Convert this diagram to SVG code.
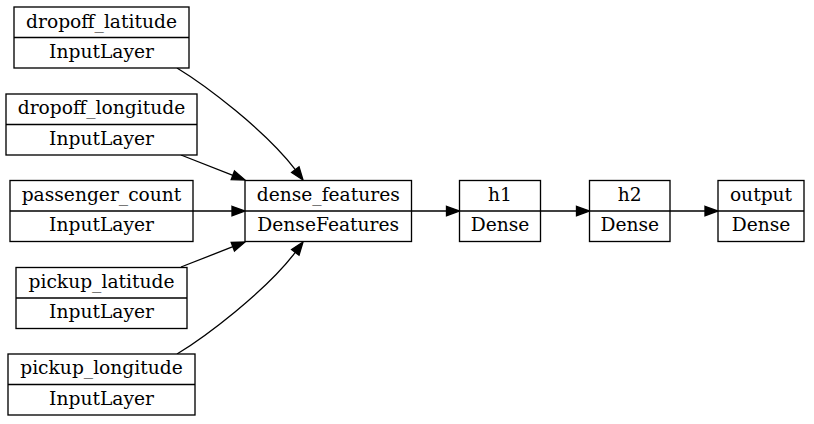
<svg xmlns="http://www.w3.org/2000/svg" width="814" height="424" viewBox="0 0 814 424">
<defs>
<style>
.box{fill:#fff;stroke:#000;stroke-width:1.33}
.div{stroke:#000;stroke-width:1.33}
.t{font-family:"DejaVu Serif","Liberation Serif",serif;font-size:18.67px;fill:#000;text-anchor:middle}
.e{fill:none;stroke:#000;stroke-width:1.33}
.ah{fill:#000;stroke:#000;stroke-width:1.33}
</style>
</defs>
<rect width="814" height="424" fill="#fff"/>
<g id="connectors">
<path class="e" d="M177,68 C205,85 265,130 295.3,169.6"/>
<polygon class="ah" points="299,166.8 303,180 291.6,172.4"/>
<path class="e" d="M181,155 L232.9,175.3"/>
<polygon class="ah" points="234.5,170.9 245,180 231.2,179.7"/>
<path class="e" d="M193,211 L232,211"/>
<polygon class="ah" points="232,206.3 245,211 232,215.7"/>
<path class="e" d="M181,267 L232.9,246.7"/>
<polygon class="ah" points="234.5,251.1 245,242 231.2,242.3"/>
<path class="e" d="M177,354 C205,337 265,292 295.3,252.4"/>
<polygon class="ah" points="299,255.2 303,242 291.6,249.6"/>
<path class="e" d="M411.5,211 L446.5,211"/>
<polygon class="ah" points="446.5,206.3 459.5,211 446.5,215.7"/>
<path class="e" d="M540.5,211 L576.5,211"/>
<polygon class="ah" points="576.5,206.3 589.5,211 576.5,215.7"/>
<path class="e" d="M670,211 L705,211"/>
<polygon class="ah" points="705,206.3 718,211 705,215.7"/>
</g>
<g id="dropoff_latitude">
<rect class="box" x="14" y="7" width="175" height="61"/>
<line class="div" x1="14" y1="37.5" x2="189" y2="37.5"/>
<text class="t" x="101.5" y="27.5">dropoff_latitude</text>
<text class="t" x="101.5" y="58">InputLayer</text>
</g>
<g id="dropoff_longitude">
<rect class="box" x="6" y="94" width="191" height="61"/>
<line class="div" x1="6" y1="124.5" x2="197" y2="124.5"/>
<text class="t" x="101.5" y="114.3">dropoff_longitude</text>
<text class="t" x="101.5" y="144.8">InputLayer</text>
</g>
<g id="passenger_count">
<rect class="box" x="10" y="180.5" width="183" height="61"/>
<line class="div" x1="10" y1="211" x2="193" y2="211"/>
<text class="t" x="101.5" y="200.8">passenger_count</text>
<text class="t" x="101.5" y="231.3">InputLayer</text>
</g>
<g id="pickup_latitude">
<rect class="box" x="16" y="267.5" width="171" height="61"/>
<line class="div" x1="16" y1="298" x2="187" y2="298"/>
<text class="t" x="101.5" y="287.8">pickup_latitude</text>
<text class="t" x="101.5" y="318.3">InputLayer</text>
</g>
<g id="pickup_longitude">
<rect class="box" x="8" y="354" width="187" height="61"/>
<line class="div" x1="8" y1="384.5" x2="195" y2="384.5"/>
<text class="t" x="101.5" y="374.3">pickup_longitude</text>
<text class="t" x="101.5" y="404.8">InputLayer</text>
</g>
<g id="dense_features">
<rect class="box" x="245" y="180.5" width="166.5" height="61"/>
<line class="div" x1="245" y1="211" x2="411.5" y2="211"/>
<text class="t" x="328.25" y="200.8">dense_features</text>
<text class="t" x="328.25" y="231.3">DenseFeatures</text>
</g>
<g id="h1">
<rect class="box" x="459.5" y="180.5" width="81" height="61"/>
<line class="div" x1="459.5" y1="211" x2="540.5" y2="211"/>
<text class="t" x="500" y="200.8">h1</text>
<text class="t" x="500" y="231.3">Dense</text>
</g>
<g id="h2">
<rect class="box" x="589.5" y="180.5" width="80.5" height="61"/>
<line class="div" x1="589.5" y1="211" x2="670" y2="211"/>
<text class="t" x="629.75" y="200.8">h2</text>
<text class="t" x="629.75" y="231.3">Dense</text>
</g>
<g id="output">
<rect class="box" x="718" y="180.5" width="86" height="61"/>
<line class="div" x1="718" y1="211" x2="804" y2="211"/>
<text class="t" x="761" y="200.8">output</text>
<text class="t" x="761" y="231.3">Dense</text>
</g>
</svg>
